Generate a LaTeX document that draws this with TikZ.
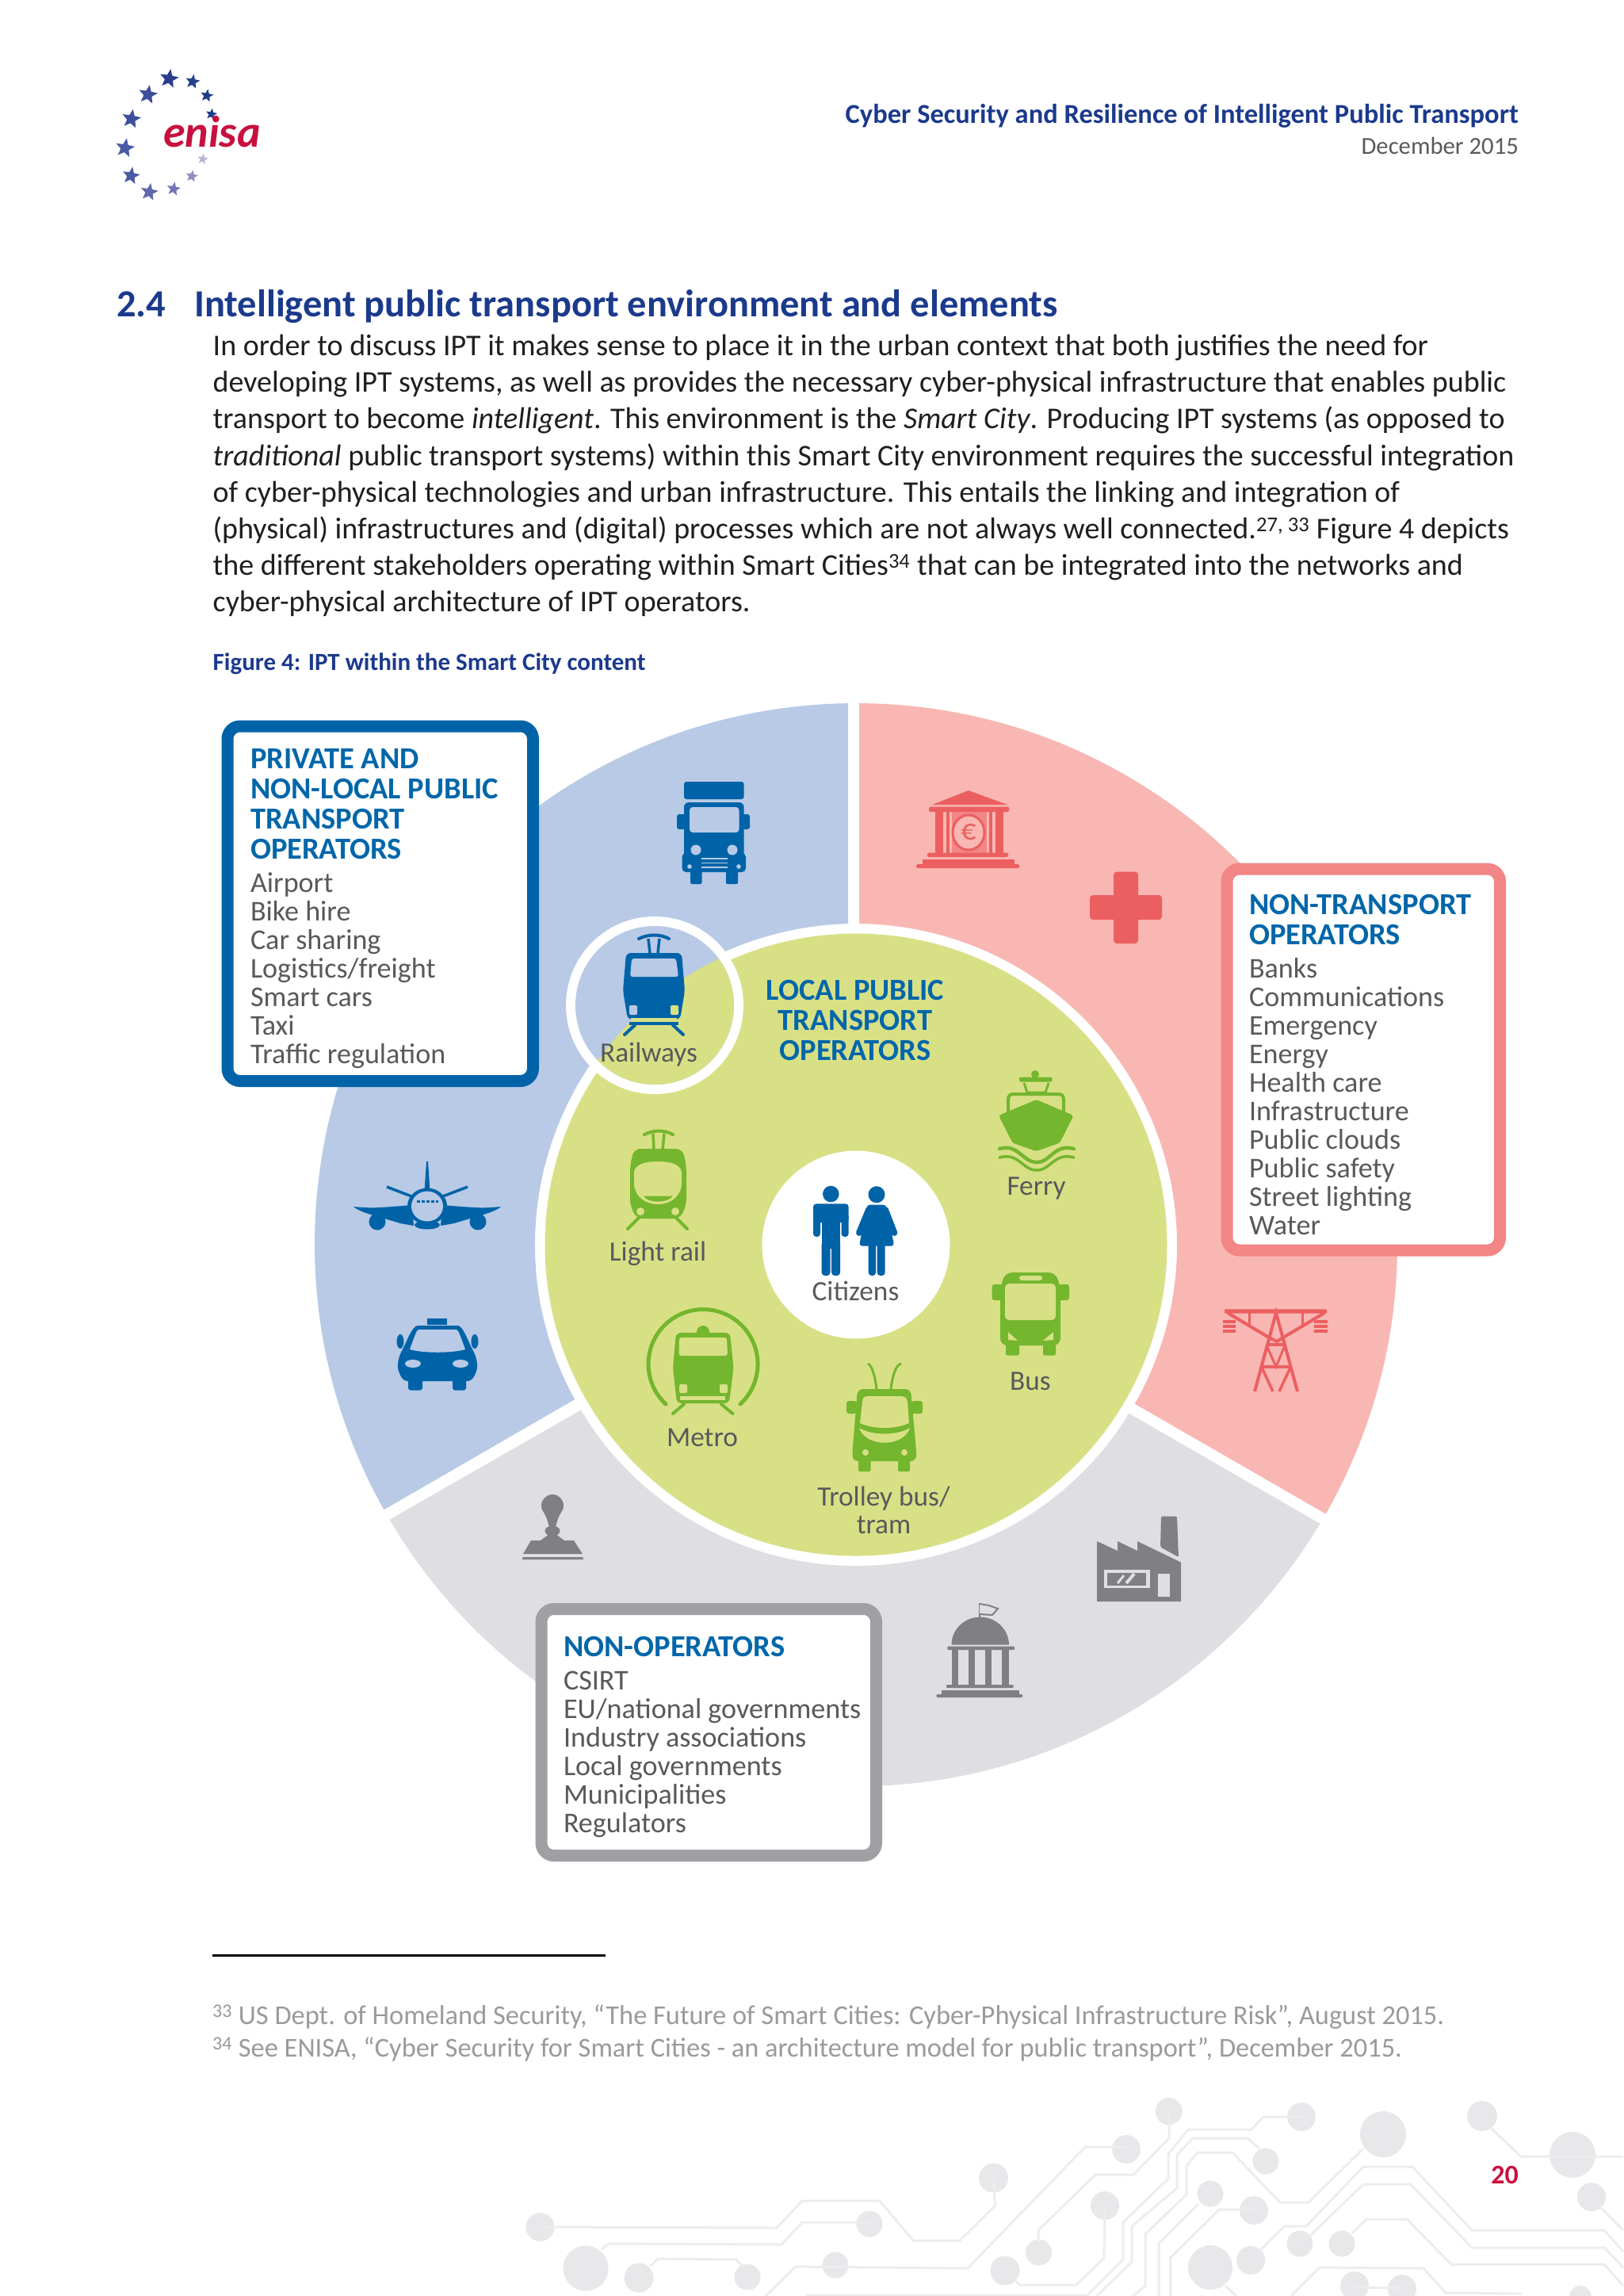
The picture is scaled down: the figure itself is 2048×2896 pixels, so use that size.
\documentclass[tikz,border=0pt]{standalone}
\usepackage{fontspec}
\setmainfont{Carlito}
\usepackage{xcolor}
\usetikzlibrary{positioning,calc,shapes.geometric}

\definecolor{secblue}{HTML}{B8CAE6}
\definecolor{secpink}{HTML}{F8B7B3}
\definecolor{secgrey}{HTML}{DFDFE3}
\definecolor{secgreen}{HTML}{D8E086}
\definecolor{iconblue}{HTML}{0063A8}
\definecolor{iconred}{HTML}{EC5F61}
\definecolor{icongreen}{HTML}{74B62E}
\definecolor{icongrey}{HTML}{808083}
\definecolor{boxpink}{HTML}{F28585}
\definecolor{boxgrey}{HTML}{A09FA4}
\definecolor{headblue}{HTML}{0066AA}
\definecolor{navy}{HTML}{1B3A8C}
\definecolor{txtgrey}{HTML}{58595B}
\definecolor{notegrey}{HTML}{9A9A9D}
\definecolor{crimson}{HTML}{C8103F}
\definecolor{traceGrey}{HTML}{EDEDEF}
\definecolor{padGrey}{HTML}{E8E8EB}

\newcommand{\boxhead}{\fontsize{38.5}{38}\bfseries\color{headblue}\selectfont\rule{0pt}{38pt}}
\newcommand{\boxlist}{\fontsize{36.1}{36}\mdseries\color{txtgrey}\selectfont}

\begin{document}
\begin{tikzpicture}[x=1pt, y=-1pt,
    trace/.style={draw=traceGrey, line width=3pt},
    infobox/.style={draw, line width=15pt, fill=white, rounded corners=16pt, align=flush left, inner ysep=0pt, font=\boxlist},
    iconlabel/.style={anchor=base, align=center, text=txtgrey, font=\fontsize{35.3}{36}\selectfont},
    headlabel/.style={anchor=base, text=headblue, font=\fontsize{38.5}{38}\bfseries\selectfont},
    leg/.style={line width=4pt, line cap=round}]
  \useasboundingbox (0,0) rectangle (2048,2896);
  \fill[white] (0,0) rectangle (2048,2896);

  \foreach \px/\py/\pr in {1474.6/2663/17, 1642/2670/18, 1421/2711/18, 1597/2726/16.5, 1745/2692/29, 1870/2669/19,
      1984/2718/29, 2008/2771/18, 1394/2782/18, 1527/2767/16.5, 1582/2788/18, 1310.5/2841/16.5, 1640/2830/16.5,
      1693/2830/16.5, 1578/2851/18, 1527/2860/28, 1709/2883/18, 1769/2887/18, 1994/2897/14, 681.5/2809/18,
      739/2861/28.5, 806/2873/18.5, 943/2872/16.5, 1097/2805/16.5, 1054/2857/16.5, 1253.5/2747/18.5, 1268/2864/18.5}
    \fill[padGrey] (\px,\py) circle[radius=\pr];
  \draw[trace] (681.5,2809) -- (980,2810) -- (1012,2776) -- (1110,2776) -- (1152,2826) -- (1211,2826) -- (1255.5,2782) -- (1253.5,2747);
  \draw[trace] (759,2837) -- (768,2830) -- (986,2831) -- (1012,2803) -- (1097,2803);
  \draw[trace] (821,2858) -- (830,2849) -- (929,2850) -- (938,2860);
  \draw[trace] (966,2896) -- (1003.5,2859) -- (1221,2861) -- (1369,2708) -- (1421,2708);
  \draw[trace] (1310,2827) -- (1310,2813) -- (1382,2743) -- (1430,2743) -- (1475,2697) -- (1475,2663);
  \draw[trace] (1282,2877) -- (1286,2882) -- (1358,2882) -- (1393,2848) -- (1394,2782);
  \draw[trace] (1017,2895) -- (1372,2895) -- (1417,2850) -- (1417,2803) -- (1474,2748) -- (1474,2717) -- (1499,2686) -- (1579,2686) -- (1594,2670) -- (1642,2670);
  \draw[trace] (1383.5,2896) -- (1428,2853) -- (1428,2808) -- (1485,2760) -- (1485,2718) -- (1505,2697) -- (1574,2697) -- (1589,2710);
  \draw[trace] (1429,2896) -- (1445,2883) -- (1445,2818) -- (1497,2768) -- (1497,2732) -- (1511,2715) -- (1555,2715) -- (1615,2778) -- (1651,2778) -- (1720,2710);
  \draw[trace] (1462,2896) -- (1462,2830) -- (1512,2780);
  \draw[trace] (1476.5,2896) -- (1476.5,2848) -- (1538,2787) -- (1582,2787);
  \draw[trace] (1591,2837) -- (1620.6,2808) -- (1648,2808) -- (1720,2733) -- (1782,2733) -- (1857,2813) -- (2024,2813) -- (2048,2840);
  \draw[trace] (1653,2820) -- (1720,2755) -- (1779.5,2755) -- (1857,2835) -- (2024,2835) -- (2048,2860);
  \draw[trace] (1705.5,2817) -- (1724,2799) -- (1775,2799) -- (1831,2856) -- (2024,2856) -- (2048,2883);
  \draw[trace] (1629,2896) -- (1665,2860) -- (1796,2861) -- (1824,2892) -- (1920,2893);
  \draw[trace] (1882,2685) -- (1919,2720) -- (2048,2720);
  \draw[trace] (2020,2785) -- (2048,2813);
  \draw[trace] (1546,2883) -- (1560,2896);
  \draw[trace] (1709,2885) -- (1769,2885);

  \foreach \i/\sx/\sy/\ss/\sc in {1/213.3/99.3/25/2A3E8C, 2/243/103/19/22408C, 3/261/120.7/17/1F3C88, 4/266.7/144/15/1F3C88,
      5/186.7/119.3/25/3C4E9C, 6/165.7/150/25/3C4E9C, 7/157.7/186.7/25/4A5AA4, 8/165.3/221.7/23/4A5AA4,
      9/188.3/242.3/23/6068AE, 10/219/238.3/18/7076B4, 11/242/222.3/16/8C90C2, 12/255.7/200.7/14/B4B6DA} {
    \definecolor{starcol}{HTML}{\sc}
    \node[star, star points=5, star point ratio=2.3, fill=starcol, inner sep=0pt, minimum size=\ss pt, rotate=-10] (star\i) at (\sx,\sy) {};
  }
  \node[anchor=base west, inner sep=0pt, text=crimson, font=\fontsize{56}{60}\bfseries\itshape\selectfont] (logo) at (206,185) {enisa};
  \node[anchor=base east, inner sep=0pt, text=navy, font=\fontsize{34.5}{40}\bfseries\selectfont] (doctitle) at (1916,155) {Cyber Security and Resilience of Intelligent Public Transport};
  \node[anchor=base east, inner sep=0pt, text=txtgrey, font=\fontsize{30.7}{36}\selectfont] (docdate) at (1916,194) {December 2015};

  \node[anchor=base west, inner sep=0pt, text=navy, font=\fontsize{48.4}{50}\bfseries\selectfont] (secnum) at (147,399) {2.4};
  \node[anchor=base west, inner sep=0pt, text=navy, font=\fontsize{48.4}{50}\bfseries\selectfont] (sectitle) at (245,399) {Intelligent public transport environment and elements};
  \node[anchor=north west, inner sep=0pt, align=left, text=black!88, font=\fontsize{38}{46.2}\selectfont] (bodytext) at (268.5,422) {In order to discuss IPT it makes sense to place it in the urban context that both justifies the need for\\
    developing IPT systems, as well as provides the necessary cyber-physical infrastructure that enables public\\
    transport to become \textit{intelligent}. This environment is the \textit{Smart City}. Producing IPT systems (as opposed to\\
    \textit{traditional} public transport systems) within this Smart City environment requires the successful integration\\
    of cyber-physical technologies and urban infrastructure. This entails the linking and integration of\\
    (physical) infrastructures and (digital) processes which are not always well connected.\textsuperscript{27, 33} Figure 4 depicts\\
    the different stakeholders operating within Smart Cities\textsuperscript{34} that can be integrated into the networks and\\
    cyber-physical architecture of IPT operators.};
  \node[anchor=base west, inner sep=0pt, text=navy, font=\fontsize{31}{34}\bfseries\selectfont] (figcap) at (268.5,845) {Figure 4: IPT within the Smart City content};

  \coordinate (hub) at (1080,1570);
  \fill[secblue] (hub) ++(-90.84:683) arc[start angle=-90.84, end angle=-209.3, radius=683] -- ($(hub)+(-208.8:405)$) arc[start angle=-208.8, end angle=-91.4, radius=405] -- cycle;
  \fill[secpink] (hub) ++(-89.66:683) arc[start angle=-89.66, end angle=29.8, radius=683] -- ($(hub)+(29.7:405)$) arc[start angle=29.7, end angle=-89.4, radius=405] -- cycle;
  \fill[secgrey] (hub) ++(-210.5:683) arc[start angle=-210.5, end angle=-329, radius=683] -- ($(hub)+(-328.3:405)$) arc[start angle=-328.3, end angle=-211, radius=405] -- cycle;
  \fill[secgreen] (hub) circle[radius=392.5];
  \fill[white] (hub) circle[radius=118.5];

  \fill[white] (826,1268) circle[radius=112];
  \begin{scope}
    \clip (826,1268) circle[radius=100];
    \fill[secblue] (700,1150) rectangle (950,1390);
    \fill[secgreen] (hub) circle[radius=400];
  \end{scope}

  % freight truck
  \fill[iconblue, rounded corners=3pt] (863,986) rectangle (938.6,1008);
  \fill[iconblue, rounded corners=6pt] (863,1012) rectangle (938.6,1090);
  \fill[iconblue, rounded corners=3pt] (854,1027) rectangle (865,1046);
  \fill[iconblue, rounded corners=3pt] (935,1027) rectangle (946,1046);
  \fill[iconblue, rounded corners=5pt] (860.5,1076) rectangle (941,1100);
  \fill[iconblue, rounded corners=2pt] (871,1095) rectangle (885.5,1115);
  \fill[iconblue, rounded corners=2pt] (916,1095) rectangle (931,1115);
  \fill[secblue, rounded corners=4pt] (870,1018) rectangle (932.5,1050);
  \fill[secblue] (878,1072) circle[radius=6.5];
  \fill[secblue] (924,1072) circle[radius=6.5];
  \fill[secblue] (870,1093) circle[radius=2.8];
  \fill[secblue] (932,1093) circle[radius=2.8];
  \foreach \gy in {1083,1088.5,1094}
    \draw[secblue, line width=1.6pt] (884.5,\gy) -- (918,\gy);

  % airliner
  \fill[iconblue] (538,1465) -- (540,1465) -- (542.5,1502) -- (535.5,1502) -- cycle;
  \draw[iconblue, line width=3.5pt] (488,1497) -- (522,1510);
  \draw[iconblue, line width=3.5pt] (590,1497) -- (556,1510);
  \fill[iconblue] (446,1522) .. controls (470,1524) .. (520,1520) -- (522,1546) -- (505,1543) .. controls (480,1535) and (455,1530) .. cycle;
  \fill[iconblue] (632,1522) .. controls (608,1524) .. (558,1520) -- (556,1546) -- (573,1543) .. controls (598,1535) and (623,1530) .. cycle;
  \fill[iconblue] (476,1541) circle[radius=10.5];
  \fill[iconblue] (603,1541) circle[radius=10.5];
  \fill[iconblue] (539,1545) ellipse[x radius=16, y radius=5.5];
  \fill[iconblue] (539,1521.5) ellipse[x radius=25, y radius=23];
  \fill[secblue] (539,1521.5) ellipse[x radius=20, y radius=19];
  \draw[iconblue, line width=3pt, dash pattern=on 4pt off 2pt] (526,1515) -- (553,1515);

  % taxi
  \fill[iconblue] (539,1663) rectangle (564,1671);
  \fill[iconblue] (527,1672) -- (578,1672) .. controls (584,1673) and (590,1690) .. (596,1702) .. controls (602,1712) and (604,1725) .. (600,1732) .. controls (598,1738) and (594,1742) .. (590,1742) -- (514,1742) .. controls (510,1742) and (506,1738) .. (504,1732) .. controls (500,1725) and (502,1712) .. (508,1702) .. controls (514,1690) and (520,1673) .. cycle;
  \fill[secblue] (530,1677) -- (574,1677) .. controls (578,1677) .. (587,1702) .. controls (570,1707) and (534,1707) .. (517,1702) .. controls (526,1677) .. cycle;
  \fill[iconblue] (505,1692) ellipse[x radius=4.5, y radius=9];
  \fill[iconblue] (599,1692) ellipse[x radius=4.5, y radius=9];
  \fill[secblue] (521,1720) ellipse[x radius=10, y radius=5];
  \fill[secblue] (581,1720) ellipse[x radius=10, y radius=5];
  \fill[iconblue, rounded corners=3pt] (515,1738) rectangle (533,1753.5);
  \fill[iconblue, rounded corners=3pt] (571,1738) rectangle (588,1753.5);

  % railways tram
  \draw[iconblue, leg] (806,1184) .. controls (818,1178) and (833,1178) .. (844,1184);
  \draw[iconblue, line width=3.5pt] (818,1184) -- (820,1202);
  \draw[iconblue, line width=3.5pt] (832,1184) -- (830,1202);
  \fill[iconblue, rounded corners=6pt] (790,1202) -- (860,1202) -- (864,1250) -- (858,1286) -- (792,1286) -- (786,1250) -- cycle;
  \fill[secblue, rounded corners=3pt] (797,1209) -- (853,1209) -- (856,1232) -- (795,1232) -- cycle;
  \fill[secblue, rounded corners=2pt] (794,1268) rectangle (804,1280);
  \fill[secgreen, rounded corners=2pt] (846,1268) rectangle (856,1280);
  \fill[secgreen] (796,1284) rectangle (854,1288.5);
  \fill[iconblue] (794,1288.5) rectangle (856,1293);
  \draw[iconblue, leg] (801,1293) -- (788,1305);
  \draw[iconblue, leg] (849,1293) -- (862,1305);
  \node[iconlabel] (railways) at (818.5,1339) {Railways};

  % light rail
  \draw[icongreen, leg] (813,1431) .. controls (825,1425) and (838,1425) .. (849,1431);
  \draw[icongreen, line width=3.5pt] (824,1430) -- (825,1450);
  \draw[icongreen, line width=3.5pt] (838,1430) -- (836,1450);
  \fill[icongreen, rounded corners=8pt] (800,1449) -- (861,1449) -- (866,1470) -- (866,1520) -- (858,1537) -- (803,1537) -- (795,1520) -- (795,1470) -- cycle;
  \fill[secgreen] (800,1478) .. controls (802,1468) and (815,1465) .. (830,1465) .. controls (845,1465) and (858,1468) .. (860,1478) -- (860,1495) .. controls (858,1510) and (845,1519) .. (830,1519) .. controls (815,1519) and (802,1510) .. (800,1495) -- cycle;
  \fill[icongreen] (812,1508.5) -- (849,1508.5) .. controls (842,1518) and (818,1518) .. cycle;
  \fill[secgreen] (808,1528) circle[radius=5];
  \fill[secgreen] (852,1528) circle[radius=5];
  \draw[icongreen, leg] (806,1536) -- (792,1550);
  \draw[icongreen, leg] (853,1536) -- (867,1550);
  \node[iconlabel] (lightrail) at (830,1590) {Light rail};

  % metro
  \draw[icongreen, line width=5pt, line cap=round] (840,1771) arc[start angle=133, end angle=407, radius=69];
  \fill[icongreen] (887,1680) circle[radius=8];
  \fill[icongreen, rounded corners=6pt] (853,1681) -- (921,1681) -- (925.5,1725) -- (920,1770) -- (854,1770) -- (849,1725) -- cycle;
  \fill[secgreen, rounded corners=3pt] (857,1687) -- (917,1687) -- (918,1710) -- (856.5,1710) -- cycle;
  \fill[secgreen, rounded corners=2pt] (857,1746) rectangle (867,1757);
  \fill[secgreen, rounded corners=2pt] (908,1746) rectangle (918,1757);
  \fill[secgreen] (858,1761) rectangle (915,1766);
  \draw[icongreen, leg] (863,1771) -- (849,1783);
  \draw[icongreen, leg] (910,1771) -- (924.5,1783);
  \node[iconlabel] (metro) at (886,1824) {Metro};

  % trolley bus
  \draw[icongreen, line width=3pt] (1106,1752) .. controls (1104,1735) and (1100,1722) .. (1095,1720);
  \draw[icongreen, line width=3pt] (1124,1752) .. controls (1126,1735) and (1130,1722) .. (1137,1720);
  \fill[icongreen, rounded corners=7pt] (1082,1752) -- (1149,1752) -- (1156,1830) -- (1156,1843) -- (1075.5,1843) -- (1075.5,1830) -- cycle;
  \fill[icongreen, rounded corners=3pt] (1068,1767) rectangle (1081,1783);
  \fill[icongreen, rounded corners=3pt] (1150,1767) rectangle (1164,1783);
  \fill[secgreen] (1088,1768) .. controls (1088,1762) and (1092,1761) .. (1096,1761) -- (1136,1761) .. controls (1140,1761) and (1144,1762) .. (1145,1768) -- (1147,1795) .. controls (1130,1803) and (1102,1803) .. (1085,1795) -- cycle;
  \fill[secgreen] (1084,1801) .. controls (1100,1811) and (1132,1811) .. (1148,1801) .. controls (1140,1826) and (1092,1826) .. cycle;
  \fill[secgreen] (1092,1832) circle[radius=4];
  \fill[secgreen] (1141,1832) circle[radius=4];
  \fill[icongreen, rounded corners=2pt] (1083,1840) rectangle (1098.5,1856);
  \fill[icongreen, rounded corners=2pt] (1133,1840) rectangle (1148,1856);
  \node[iconlabel] (trolley) at (1115,1899) {Trolley bus/};
  \node[iconlabel] (tram) at (1115,1934) {tram};

  % bus
  \fill[icongreen, rounded corners=9pt] (1268,1605) -- (1332,1605) -- (1338,1625) -- (1338,1697) -- (1262,1697) -- (1262,1625) -- cycle;
  \fill[icongreen, rounded corners=3pt] (1251.5,1620) rectangle (1266,1640);
  \fill[icongreen, rounded corners=3pt] (1334,1620) rectangle (1349,1640);
  \fill[secgreen, rounded corners=3pt] (1286,1609) rectangle (1315,1615);
  \fill[secgreen, rounded corners=5pt] (1268,1619) rectangle (1332,1665);
  \fill[secgreen] (1272,1680) -- (1284,1691) -- (1272,1690) -- cycle;
  \fill[secgreen] (1329,1680) -- (1316,1691) -- (1329,1690) -- cycle;
  \fill[icongreen, rounded corners=2pt] (1269,1694) rectangle (1286,1709.5);
  \fill[icongreen, rounded corners=2pt] (1316,1694) rectangle (1332,1709.5);
  \node[iconlabel] (bus) at (1300,1753) {Bus};

  % ferry
  \fill[icongreen] (1306,1355) circle[radius=5];
  \fill[icongreen, rounded corners=2pt] (1286,1358.5) rectangle (1327.5,1364.5);
  \draw[icongreen, line width=3pt] (1292,1366) -- (1296,1378) -- (1319,1378) -- (1323,1366);
  \draw[icongreen, line width=4pt, rounded corners=6pt] (1272,1404) -- (1272,1380) -- (1342,1380) -- (1342,1404);
  \fill[icongreen, rounded corners=3pt] (1260,1407) -- (1307.5,1387) -- (1354.6,1407) -- (1337,1441.6) -- (1307.5,1452) -- (1277.6,1441.6) -- cycle;
  \draw[icongreen, line width=4.5pt, line cap=round] (1261,1449) .. controls (1285,1442) and (1290,1466) .. (1308,1466) .. controls (1326,1466) and (1330,1442) .. (1355,1449);
  \draw[icongreen, line width=3.5pt, line cap=round] (1261,1460) .. controls (1285,1453) and (1290,1476) .. (1308,1476) .. controls (1326,1476) and (1330,1453) .. (1355,1460);
  \node[iconlabel] (ferry) at (1307.5,1507) {Ferry};

  % citizens
  \fill[iconblue] (1048.3,1506) circle[radius=10.3];
  \fill[iconblue, rounded corners=4pt] (1026,1518.3) rectangle (1070.7,1542);
  \fill[iconblue, rounded corners=4pt] (1026,1530) rectangle (1035,1560);
  \fill[iconblue, rounded corners=4pt] (1061.5,1530) rectangle (1070.7,1560);
  \fill[iconblue] (1036.7,1525) rectangle (1060,1575);
  \fill[iconblue, rounded corners=4pt] (1036.7,1565) rectangle (1047.5,1609);
  \fill[iconblue, rounded corners=4pt] (1049.2,1565) rectangle (1060,1609);
  \fill[iconblue] (1106,1506.7) circle[radius=10.5];
  \fill[iconblue, rounded corners=4pt] (1094,1519.5) -- (1118,1519.5) -- (1128.3,1571.7) -- (1084,1571.7) -- cycle;
  \draw[iconblue, line width=8pt, line cap=round] (1096,1526) -- (1084,1555);
  \draw[iconblue, line width=8pt, line cap=round] (1117,1526) -- (1128.3,1555);
  \fill[iconblue, rounded corners=4pt] (1095.7,1565) rectangle (1105,1609);
  \fill[iconblue, rounded corners=4pt] (1106.7,1565) rectangle (1116.7,1609);
  \node[iconlabel] (citizens) at (1079.5,1640) {Citizens};

  \node[headlabel] (localA) at (1079,1261.5) {LOCAL PUBLIC};
  \node[headlabel] (localB) at (1079,1299.5) {TRANSPORT};
  \node[headlabel] (localC) at (1079,1337.5) {OPERATORS};

  % bank
  \fill[iconred] (1222,997) -- (1271,1015) -- (1176,1015) -- cycle;
  \fill[iconred, rounded corners=1.5pt] (1172,1017.5) rectangle (1273,1024);
  \fill[iconred] (1180,1024) rectangle (1190,1075.5);
  \fill[iconred] (1256,1024) rectangle (1266,1075.5);
  \fill[iconred] (1194,1024) rectangle (1198,1075.5);
  \fill[iconred] (1248,1024) rectangle (1252,1075.5);
  \fill[boxpink] (1201,1024) rectangle (1245,1075.5);
  \draw[iconred, line width=3pt, fill=secpink] (1222,1050) ellipse[x radius=20, y radius=22];
  \node[inner sep=0pt, text=iconred, font=\fontsize{38}{40}\selectfont] (euro) at (1222,1050) {€};
  \fill[iconred, rounded corners=1.5pt] (1170,1075.5) rectangle (1272,1081);
  \fill[iconred] (1164,1084) rectangle (1280,1090);
  \fill[iconred, rounded corners=1.5pt] (1156,1090) rectangle (1286,1095);

  % health cross
  \fill[iconred, rounded corners=4pt] (1405,1099.6) rectangle (1436,1190);
  \fill[iconred, rounded corners=4pt] (1375,1129) rectangle (1466,1160);

  % pylon
  \fill[iconred, rounded corners=1pt] (1545,1651.4) rectangle (1674,1656.5);
  \draw[iconred, line width=4pt] (1583,1755) -- (1610,1656) -- (1637,1755);
  \draw[iconred, line width=4pt] (1549,1656) -- (1601,1687) -- (1611,1692) -- (1619,1687) -- (1671,1656);
  \draw[iconred, line width=3pt] (1576.5,1656) -- (1576.5,1671);
  \draw[iconred, line width=3pt] (1643,1656) -- (1643,1671);
  \draw[iconred, line width=3.5pt] (1597,1696) -- (1622.5,1696);
  \draw[iconred, line width=3.5pt] (1591,1724) -- (1629,1724);
  \draw[iconred, line width=3pt] (1598,1697) -- (1610,1724) -- (1621,1697);
  \draw[iconred, line width=3.5pt] (1592,1725) -- (1606,1755);
  \draw[iconred, line width=3.5pt] (1628,1725) -- (1614,1755);
  \foreach \iy in {1667,1673,1679} {
    \draw[iconred, line width=4pt] (1543,\iy) -- (1559,\iy);
    \draw[iconred, line width=4pt] (1658,\iy) -- (1675,\iy);
  }

  % factory
  \fill[icongrey, rounded corners=2pt] (1465,1912.6) -- (1485,1912.6) -- (1487,1964) -- (1464,1951.4) -- cycle;
  \fill[icongrey] (1384,1944) -- (1410,1956) -- (1410,1944) -- (1435,1956) -- (1435,1944) -- (1490,1970.6) -- (1490,2020) -- (1384,2020) -- cycle;
  \fill[secgrey] (1393,1980.4) rectangle (1450.5,2003);
  \fill[icongrey] (1397,1984) rectangle (1446,2000);
  \draw[secgrey, line width=3pt] (1410,1997) -- (1418,1987);
  \draw[secgrey, line width=4pt] (1421,1997) -- (1431,1985);
  \fill[secgrey] (1461,1985) rectangle (1476,2014);

  % government building
  \draw[icongrey, line width=2pt] (1236,2040) -- (1236,2022);
  \draw[icongrey, line width=2pt, fill=secgrey] (1236,2023) -- (1248,2025) -- (1259,2029) -- (1252,2037) -- (1236,2036);
  \fill[icongrey] (1200.5,2074.6) arc[start angle=180, end angle=360, x radius=36.25, y radius=35] -- cycle;
  \fill[icongrey, rounded corners=1pt] (1195.4,2076.5) rectangle (1280,2081);
  \foreach \cx/\cw in {1200.5/8.5, 1222/7.6, 1243/7.5, 1264/9}
    \fill[icongrey] (\cx,2081) rectangle ++(\cw,44);
  \fill[icongrey, rounded corners=1pt] (1194,2125) rectangle (1278.6,2129);
  \fill[icongrey] (1188,2132) rectangle (1286,2137);
  \fill[icongrey, rounded corners=1pt] (1181.6,2137) rectangle (1290,2141);

  % stamp
  \fill[icongrey] (697,1899) circle[radius=14];
  \fill[icongrey] (685,1905) .. controls (690,1915) .. (693,1926) -- (701,1926) .. controls (704,1915) .. (709,1905) -- cycle;
  \fill[icongrey] (697,1931) ellipse[x radius=9.5, y radius=6.5];
  \fill[icongrey] (697,1932) -- (712,1943) -- (682,1943) -- cycle;
  \fill[icongrey] (670,1943) -- (724,1943) -- (735,1960) -- (660,1960) -- cycle;
  \fill[icongrey, rounded corners=1pt] (659,1964) rectangle (736,1967);

  \node[infobox, draw=iconblue, minimum width=385.5pt, minimum height=447.5pt, text width=327.5pt, inner xsep=29pt] (privbox) at (479.75,1139.75) {\boxhead PRIVATE AND\\NON-LOCAL PUBLIC\\TRANSPORT\\OPERATORS\\[6pt]\boxlist Airport\\Bike hire\\Car sharing\\Logistics/freight\\Smart cars\\Taxi\\Traffic regulation};
  \node[infobox, draw=boxpink, minimum width=344.5pt, minimum height=481pt, text width=288.5pt, inner xsep=28pt] (nonbox) at (1720.25,1336.5) {\boxhead NON-TRANSPORT\\OPERATORS\\[6pt]\boxlist Banks\\Communications\\Emergency\\Energy\\Health care\\Infrastructure\\Public clouds\\Public safety\\Street lighting\\Water};
  \node[infobox, draw=boxgrey, minimum width=422.5pt, minimum height=311pt, text width=366.5pt, inner xsep=28pt] (opbox) at (894.25,2185) {\boxhead NON-OPERATORS\\[6pt]\boxlist CSIRT\\\mbox{EU/national governments}\\Industry associations\\Local governments\\Municipalities\\Regulators};

  \coordinate (ruleA) at (268,2466.5);
  \coordinate (ruleB) at (764,2466.5);
  \draw[black, line width=2.5pt] (ruleA) -- (ruleB);
  \node[anchor=base west, inner sep=0pt, text=notegrey, font=\fontsize{34.4}{36}\selectfont] (noteA) at (268,2553) {\textsuperscript{33} US Dept. of Homeland Security, “The Future of Smart Cities: Cyber-Physical Infrastructure Risk”, August 2015.};
  \node[anchor=base west, inner sep=0pt, text=notegrey, font=\fontsize{34.4}{36}\selectfont] (noteB) at (268,2594) {\textsuperscript{34} See ENISA, “Cyber Security for Smart Cities - an architecture model for public transport”, December 2015.};
  \node[anchor=base east, inner sep=0pt, text=crimson, font=\fontsize{34}{40}\bfseries\selectfont] (pagenum) at (1916,2754) {20};
\end{tikzpicture}
\end{document}
